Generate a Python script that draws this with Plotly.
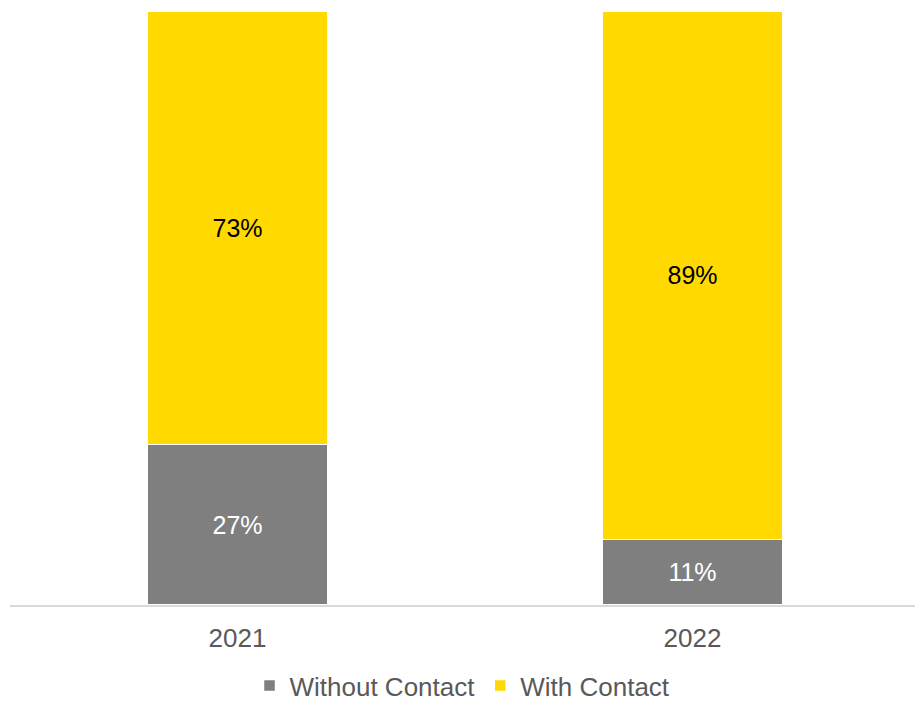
import plotly.graph_objects as go

years = ["2021", "2022"]
without_contact = [27, 11]
with_contact = [73, 89]

series_names = ["Without Contact", "With Contact"]
series_colors = ["#7f7f7f", "#ffd900"]
label_colors = ["#ffffff", "#000000"]

FONT = "Liberation Sans, Arial, sans-serif"

fig = go.Figure()
for name, vals, color, lcol in zip(series_names, [without_contact, with_contact],
                                   series_colors, label_colors):
    fig.add_trace(go.Bar(
        name=name,
        x=years,
        y=vals,
        marker=dict(color=color, line=dict(color="#ffffff", width=1.5)),
        text=[f"{v}%" for v in vals],
        textposition="inside",
        insidetextanchor="middle",
        textangle=0,
        textfont=dict(family=FONT, size=25, color=lcol),
        hoverinfo="skip",
    ))

fig.update_layout(
    width=915,
    height=704,
    barmode="stack",
    bargap=0.603,
    plot_bgcolor="#ffffff",
    paper_bgcolor="#ffffff",
    margin=dict(l=10, r=0, t=11, b=99, autoexpand=False),
    font=dict(family=FONT, size=26, color="#595959"),
    legend=dict(
        orientation="h",
        x=0.5, xanchor="center",
        yref="container",
        y=0.026, yanchor="middle",
        font=dict(family=FONT, size=26, color="#595959"),
        itemwidth=30,
        traceorder="normal",
    ),
    xaxis=dict(
        type="category",
        range=[-0.5, 1.489],
        showline=True,
        linecolor="#d9d9d9",
        linewidth=2,
        ticks="",
        automargin=False,
        ticklabelstandoff=9,
        tickfont=dict(family=FONT, size=26, color="#595959"),
        showgrid=False,
        zeroline=False,
    ),
    yaxis=dict(
        range=[0, 100],
        visible=False,
        showgrid=False,
        zeroline=False,
    ),
)

fig.write_html("out.html")
